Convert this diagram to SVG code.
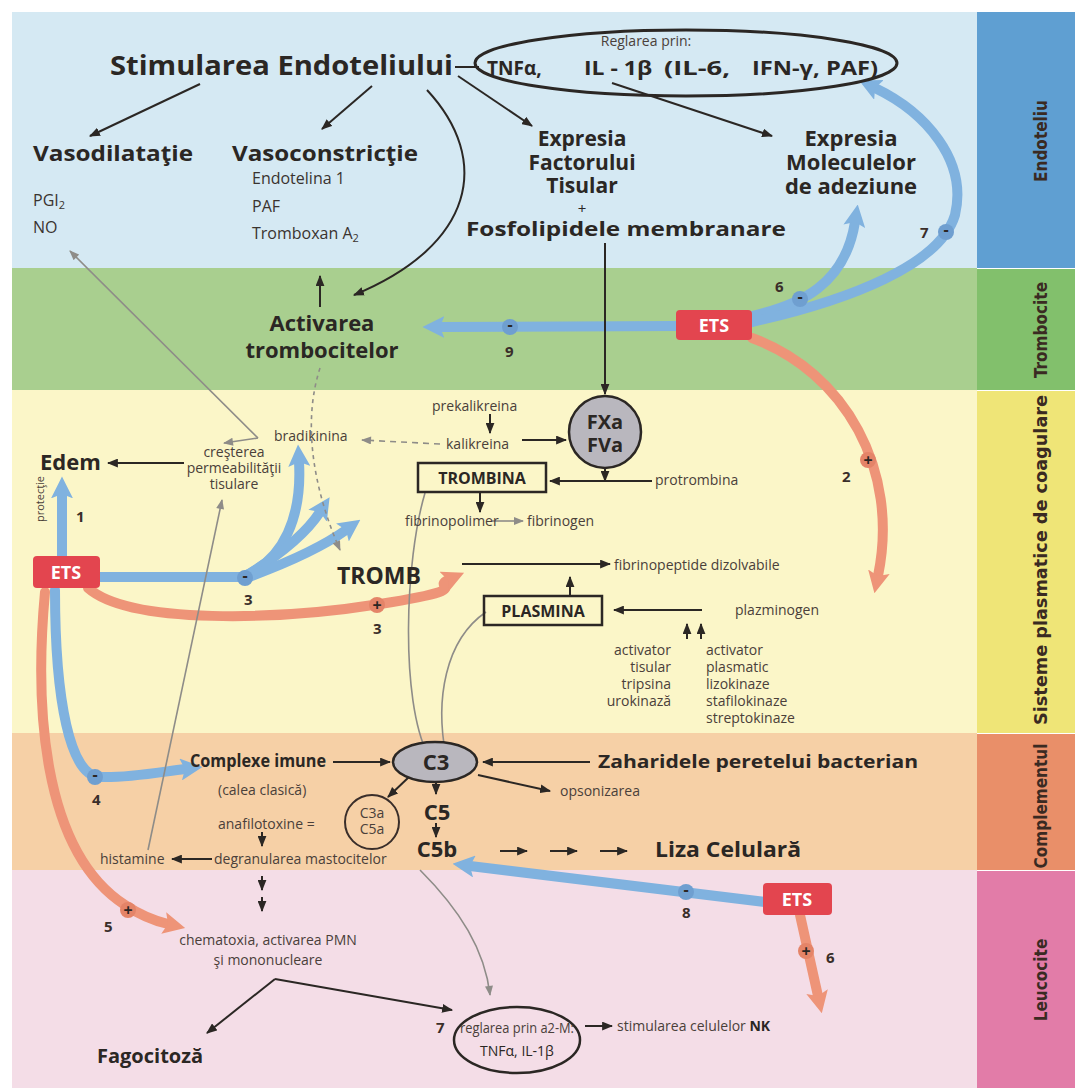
<svg xmlns="http://www.w3.org/2000/svg" width="1075" height="1088" viewBox="0 0 1075 1088">
<style>
text{font-family:"Open Sans","Liberation Sans",sans-serif;fill:#2b2724}
.b{font-weight:bold}
.s{font-size:14px;fill:#4a403a}
.m{font-size:16px;fill:#3a332f}
.side{font-family:"DejaVu Sans Condensed","Liberation Sans",sans-serif;font-weight:bold;font-size:17px;fill:#3a2a22}
.num{font-weight:bold;font-size:15px;fill:#3a2e2a}
.k{fill:none;stroke:#2b2724;stroke-width:2}
.g{fill:none;stroke:#8e8c88;stroke-width:1.6}
.bl{fill:none;stroke:#80b2df;stroke-width:10;stroke-linecap:round}
.rd{fill:none;stroke:#ee9478;stroke-width:10;stroke-linecap:round}
.ets rect{fill:#e3454f}
.ets text{fill:#fff;font-weight:bold;font-size:18px;text-anchor:middle}
.mc{fill:#6f9fd0}
.pc{fill:#e48468}
.sg{font-size:16px;font-weight:bold;text-anchor:middle;fill:#2b2724}
.c{text-anchor:middle}
</style>
<defs>
<marker id="ak" viewBox="0 0 10 8" refX="9" refY="4" markerWidth="11" markerHeight="9" markerUnits="userSpaceOnUse" orient="auto"><path d="M0,0L10,4L0,8z" fill="#2b2724"/></marker>
<marker id="ag" viewBox="0 0 10 8" refX="9" refY="4" markerWidth="11" markerHeight="8" markerUnits="userSpaceOnUse" orient="auto"><path d="M0,0L10,4L0,8z" fill="#8e8c88"/></marker>
<marker id="ab" viewBox="0 0 20 20" refX="4" refY="10" markerWidth="22" markerHeight="22" markerUnits="userSpaceOnUse" orient="auto"><path d="M0,0L20,10L0,20L4,10z" fill="#80b2df"/></marker>
<marker id="ar" viewBox="0 0 20 20" refX="4" refY="10" markerWidth="22" markerHeight="22" markerUnits="userSpaceOnUse" orient="auto"><path d="M0,0L20,10L0,20L4,10z" fill="#ee9478"/></marker>
</defs>
<rect width="1075" height="1088" fill="#ffffff"/>
<g id="bands">
<rect x="12" y="12" width="965" height="256" fill="#d5e9f3"/>
<rect x="12" y="268" width="965" height="122" fill="#a9cf8f"/>
<rect x="12" y="390" width="965" height="343" fill="#fbf6c8"/>
<rect x="12" y="733" width="965" height="137" fill="#f6d0a6"/>
<rect x="12" y="870" width="965" height="218" fill="#f4dde7"/>
<rect x="977" y="12" width="98" height="256" fill="#5f9fd2"/>
<rect x="977" y="269" width="98" height="121" fill="#82c06c"/>
<rect x="977" y="391" width="98" height="342" fill="#efe577"/>
<rect x="977" y="734" width="98" height="136" fill="#e98f69"/>
<rect x="977" y="871" width="98" height="217" fill="#e27ca8"/>
<text class="side" transform="translate(1047,141) rotate(-90)" text-anchor="middle">Endoteliu</text>
<text class="side" transform="translate(1047,330) rotate(-90)" text-anchor="middle">Trombocite</text>
<text class="side" transform="translate(1047,560) rotate(-90)" text-anchor="middle" textLength="330" lengthAdjust="spacingAndGlyphs">Sisteme plasmatice de coagulare</text>
<text class="side" transform="translate(1047,806) rotate(-90)" text-anchor="middle">Complementul</text>
<text class="side" transform="translate(1047,980) rotate(-90)" text-anchor="middle">Leucocite</text>
</g>
<g id="connectors">
<path class="bl" d="M676,326 L440,327" marker-end="url(#ab)"/>
<path class="bl" d="M752,316 C800,305 845,285 855,222" marker-end="url(#ab)"/>
<path class="bl" d="M752,322 C850,300 940,265 955,215 C968,160 925,112 875,88" marker-end="url(#ab)"/>
<path class="rd" d="M752,338 C845,372 900,470 878,576" marker-end="url(#ar)"/>
<path class="bl" d="M62,556 L62,494" marker-end="url(#ab)"/>
<path class="bl" d="M100,577 L242,577"/>
<path class="bl" d="M242,577 C285,560 302,515 299,462" marker-end="url(#ab)" stroke-width="9"/>
<path class="bl" d="M244,577 C280,555 305,535 320,512" marker-end="url(#ab)" stroke-width="8"/>
<path class="bl" d="M246,578 C290,562 325,545 346,530" marker-end="url(#ab)" stroke-width="8"/>
<path class="rd" d="M88,588 C130,625 280,620 380,604 S430,588 448,580" marker-end="url(#ar)"/>
<path class="bl" d="M55,590 C55,700 70,777 100,777 C130,778 160,772 185,769" marker-end="url(#ab)"/>
<path class="rd" d="M45,592 C35,700 40,850 125,905 C140,915 155,921 168,924" marker-end="url(#ar)"/>
<path class="bl" d="M765,902 L470,866" marker-end="url(#ab)"/>
<path class="rd" d="M800,915 L818,996" marker-end="url(#ar)" stroke-width="8"/>
<path class="k" d="M455,67 L479,67"/>
<path class="k" d="M200,84 L90,136" marker-end="url(#ak)"/>
<path class="k" d="M372,86 L322,129" marker-end="url(#ak)"/>
<path class="k" d="M458,76 L532,126" marker-end="url(#ak)"/>
<path class="k" d="M612,83 L772,136" marker-end="url(#ak)"/>
<path class="k" d="M427,90 C492,160 475,245 354,295" marker-end="url(#ak)"/>
<path class="k" d="M320,307 L320,276" marker-end="url(#ak)" stroke-width="2.5"/>
<path class="k" d="M605,243 L605,394" marker-end="url(#ak)"/>
<path class="k" d="M490,414 L490,433" marker-end="url(#ak)" stroke-width="1.6"/>
<path class="k" d="M522,440 L566,440" marker-end="url(#ak)" stroke-width="3.5"/>
<path class="k" d="M605,469 L605,481" marker-end="url(#ak)" stroke-width="1.2"/>
<path class="k" d="M652,481 L550,481" marker-end="url(#ak)" stroke-width="2.5"/>
<path class="k" d="M480,493 L480,512" marker-end="url(#ak)" stroke-width="2.5"/>
<path class="k" d="M462,564 L610,564" marker-end="url(#ak)"/>
<path class="k" d="M570,596 L570,577" marker-end="url(#ak)" stroke-width="1.8"/>
<path class="k" d="M702,610 L614,610" marker-end="url(#ak)" stroke-width="3"/>
<path class="k" d="M687,639 L687,624" marker-end="url(#ak)" stroke-width="1.4"/>
<path class="k" d="M701,639 L701,624" marker-end="url(#ak)" stroke-width="1.4"/>
<path class="k" d="M184,463 L108,463" marker-end="url(#ak)" stroke-width="3"/>
<path class="k" d="M333,762 L390,762" marker-end="url(#ak)"/>
<path class="k" d="M590,762 L483,762" marker-end="url(#ak)" stroke-width="2.5"/>
<path class="k" d="M478,775 L550,791" marker-end="url(#ak)"/>
<path class="k" d="M410,776 L388,797" marker-end="url(#ak)"/>
<path class="k" d="M436,781 L436,794" marker-end="url(#ak)" stroke-width="1.4"/>
<path class="k" d="M436,823 L436,837" marker-end="url(#ak)" stroke-width="1.4"/>
<path class="k" d="M262,832 L262,846" marker-end="url(#ak)" stroke-width="1.4"/>
<path class="k" d="M212,859 L172,859" marker-end="url(#ak)" stroke-width="1.6"/>
<path class="k" d="M500,851 L527,851" marker-end="url(#ak)" stroke-width="1.6"/>
<path class="k" d="M550,851 L577,851" marker-end="url(#ak)" stroke-width="1.6"/>
<path class="k" d="M600,851 L627,851" marker-end="url(#ak)" stroke-width="1.6"/>
<path class="k" d="M262,876 L262,890" marker-end="url(#ak)" stroke-width="1.4"/>
<path class="k" d="M262,897 L262,911" marker-end="url(#ak)" stroke-width="1.4"/>
<path class="k" d="M275,979 L207,1033" marker-end="url(#ak)"/>
<path class="k" d="M275,979 L452,1010" marker-end="url(#ak)"/>
<path class="k" d="M585,1026 L612,1026" marker-end="url(#ak)" stroke-width="1.6"/>
<path class="g" d="M258,438 L70,251" marker-end="url(#ag)"/>
<path class="g" d="M258,438 L224,443" marker-end="url(#ag)"/>
<path class="g" d="M440,444 L362,440" marker-end="url(#ag)" stroke-dasharray="6 5"/>
<path class="g" d="M320,368 C300,430 318,500 340,550" marker-end="url(#ag)" stroke-dasharray="4 4"/>
<path class="g" d="M148,850 L222,500" marker-end="url(#ag)"/>
<path class="g" d="M425,493 C405,560 400,700 428,755" marker-end="url(#ag)"/>
<path class="g" d="M486,612 C445,640 435,700 446,756" marker-end="url(#ag)"/>
<path class="g" d="M420,870 C460,910 485,950 490,995" marker-end="url(#ag)"/>
<path class="g" d="M492,521 L523,521" marker-end="url(#ag)"/>
<circle class="mc" cx="510" cy="327" r="8"/><text class="sg" x="510" y="330">-</text>
<circle class="mc" cx="800" cy="299" r="8"/><text class="sg" x="800" y="302">-</text>
<circle class="mc" cx="946" cy="232" r="8"/><text class="sg" x="946" y="235">-</text>
<circle class="mc" cx="245" cy="578" r="8"/><text class="sg" x="245" y="581">-</text>
<circle class="mc" cx="95" cy="777" r="8"/><text class="sg" x="95" y="780">-</text>
<circle class="mc" cx="686" cy="892" r="8"/><text class="sg" x="686" y="895">-</text>
<circle class="pc" cx="868" cy="460" r="8"/><text class="sg" x="868" y="466">+</text>
<circle class="pc" cx="377" cy="605" r="8"/><text class="sg" x="377" y="611">+</text>
<circle class="pc" cx="128" cy="910" r="8"/><text class="sg" x="128" y="916">+</text>
<circle class="pc" cx="806" cy="951" r="8"/><text class="sg" x="806" y="957">+</text>
<text class="num" x="505" y="357">9</text>
<text class="num" x="775" y="292">6</text>
<text class="num" x="920" y="238">7</text>
<text class="num" x="842" y="482">2</text>
<text class="num" x="76" y="522">1</text>
<text class="num" x="244" y="605">3</text>
<text class="num" x="373" y="634">3</text>
<text class="num" x="92" y="805">4</text>
<text class="num" x="104" y="932">5</text>
<text class="num" x="682" y="918">8</text>
<text class="num" x="826" y="963">6</text>
<text class="s" transform="translate(44,499) rotate(-90)" text-anchor="middle" style="font-size:11px">protecţie</text>
</g>
<g id="n-stim"><text class="b" x="110" y="75" font-size="26" textLength="343" lengthAdjust="spacingAndGlyphs">Stimularea Endoteliului</text></g>
<g id="n-reg"><ellipse cx="686" cy="63" rx="211" ry="33" fill="none" stroke="#2b2724" stroke-width="3"/>
<text class="s c" x="646" y="46" font-size="13">Reglarea prin:</text>
<text class="b" x="487" y="75" font-size="19">TNFα,</text>
<text class="b" x="584" y="75" font-size="19" textLength="68" lengthAdjust="spacingAndGlyphs">IL - 1β</text>
<text class="b" x="664" y="75" font-size="19" textLength="66" lengthAdjust="spacingAndGlyphs">(IL-6,</text>
<text class="b" x="752" y="75" font-size="19" textLength="126" lengthAdjust="spacingAndGlyphs">IFN-γ, PAF)</text></g>
<g id="n-vasod"><text class="b" x="33" y="161" font-size="22" textLength="160" lengthAdjust="spacingAndGlyphs">Vasodilataţie</text>
<text class="m" x="33" y="206">PGI<tspan font-size="11" dy="3">2</tspan></text>
<text class="m" x="33" y="233">NO</text></g>
<g id="n-vasoc"><text class="b" x="232" y="161" font-size="22" textLength="186" lengthAdjust="spacingAndGlyphs">Vasoconstricţie</text>
<text class="m" x="252" y="184">Endotelina 1</text>
<text class="m" x="252" y="212">PAF</text>
<text class="m" x="252" y="239">Tromboxan A<tspan font-size="11" dy="3">2</tspan></text></g>
<g id="n-expf"><text class="b c" x="582" y="146" font-size="21">Expresia</text>
<text class="b c" x="582" y="170" font-size="21">Factorului</text>
<text class="b c" x="582" y="193" font-size="21">Tisular</text>
<text class="c" x="582" y="214" font-size="15">+</text>
<text class="b" x="466" y="236" font-size="20" textLength="320" lengthAdjust="spacingAndGlyphs">Fosfolipidele membranare</text></g>
<g id="n-expm"><text class="b c" x="851" y="146" font-size="22">Expresia</text>
<text class="b c" x="851" y="170" font-size="22">Moleculelor</text>
<text class="b c" x="851" y="194" font-size="22">de adeziune</text></g>
<g id="n-activ"><text class="b c" x="322" y="331" font-size="22">Activarea</text>
<text class="b c" x="322" y="358" font-size="22">trombocitelor</text></g>
<g id="n-ets1" class="ets"><rect x="676" y="310" width="76" height="30" rx="4"/><text x="714" y="332">ETS</text></g>
<g id="n-ets2" class="ets"><rect x="33" y="556" width="67" height="32" rx="4"/><text x="66" y="579">ETS</text></g>
<g id="n-ets3" class="ets"><rect x="763" y="883" width="69" height="32" rx="4"/><text x="797" y="906">ETS</text></g>
<g id="n-kal"><text class="s" x="432" y="411">prekalikreina</text>
<text class="s" x="446" y="449">kalikreina</text>
<text class="s" x="274" y="441">bradikinina</text></g>
<g id="n-fxa"><circle cx="605" cy="432" r="36" fill="#b9b7be" stroke="#2b2724" stroke-width="2.5"/>
<text class="b c" x="605" y="429" font-size="20">FXa</text>
<text class="b c" x="605" y="452" font-size="20">FVa</text></g>
<g id="n-trombina"><rect x="418" y="463" width="128" height="29" fill="none" stroke="#2b2724" stroke-width="2.5"/>
<text class="b c" x="482" y="484" font-size="16">TROMBINA</text>
<text class="s" x="655" y="485" font-size="15">protrombina</text></g>
<g id="n-fibrin"><text class="s" x="405" y="526" font-size="13">fibrinopolimer</text>
<text class="s" x="527" y="526">fibrinogen</text></g>
<g id="n-tromb"><text class="b" x="337" y="584" font-size="23">TROMB</text>
<text class="s" x="614" y="570" font-size="15">fibrinopeptide dizolvabile</text></g>
<g id="n-plasmina"><rect x="484" y="596" width="118" height="29" fill="none" stroke="#2b2724" stroke-width="2.5"/>
<text class="b c" x="543" y="617" font-size="16">PLASMINA</text>
<text class="s" x="735" y="615" font-size="15">plazminogen</text></g>
<g id="n-activ-t"><text class="s" x="671" y="655" text-anchor="end">activator</text>
<text class="s" x="671" y="672" text-anchor="end">tisular</text>
<text class="s" x="671" y="689" text-anchor="end">tripsina</text>
<text class="s" x="671" y="706" text-anchor="end">urokinază</text></g>
<g id="n-activ-p"><text class="s" x="706" y="655">activator</text>
<text class="s" x="706" y="672">plasmatic</text>
<text class="s" x="706" y="689">lizokinaze</text>
<text class="s" x="706" y="706">stafilokinaze</text>
<text class="s" x="706" y="723">streptokinaze</text></g>
<g id="n-edem"><text class="b" x="40" y="470" font-size="22">Edem</text></g>
<g id="n-cresterea"><text class="s c" x="234" y="457">creşterea</text>
<text class="s c" x="234" y="473">permeabilităţii</text>
<text class="s c" x="234" y="489">tisulare</text></g>
<g id="n-complexe"><text class="b" x="190" y="767" font-size="17" textLength="136" lengthAdjust="spacingAndGlyphs">Complexe imune</text>
<text class="s" x="218" y="795">(calea clasică)</text></g>
<g id="n-c3"><ellipse cx="435" cy="762" rx="42" ry="20" fill="#b9b7be" stroke="#2b2724" stroke-width="2.5"/>
<text class="b c" x="436" y="770" font-size="22">C3</text></g>
<g id="n-zahar"><text class="b" x="598" y="768" font-size="18" textLength="320" lengthAdjust="spacingAndGlyphs">Zaharidele peretelui bacterian</text>
<text class="s" x="560" y="796">opsonizarea</text></g>
<g id="n-anafil"><text class="s" x="218" y="829">anafilotoxine =</text>
<circle cx="372" cy="822" r="27" fill="none" stroke="#3a2e2a" stroke-width="2"/>
<text class="s c" x="372" y="818" font-size="11">C3a</text>
<text class="s c" x="372" y="834" font-size="11">C5a</text></g>
<g id="n-c5"><text class="b c" x="437" y="820" font-size="22">C5</text>
<text class="b c" x="437" y="857" font-size="22">C5b</text></g>
<g id="n-liza"><text class="b" x="655" y="857" font-size="21" textLength="146" lengthAdjust="spacingAndGlyphs">Liza Celulară</text></g>
<g id="n-histamine"><text class="s" x="100" y="864">histamine</text>
<text class="s" x="214" y="864">degranularea mastocitelor</text></g>
<g id="n-chem"><text class="s c" x="268" y="945">chematoxia, activarea PMN</text>
<text class="s c" x="268" y="965">şi mononucleare</text></g>
<g id="n-fago"><text class="b" x="97" y="1063" font-size="20">Fagocitoză</text></g>
<g id="n-reg2"><text class="num" x="436" y="1033">7</text>
<ellipse cx="517" cy="1040" rx="63" ry="33" fill="none" stroke="#2b2724" stroke-width="2.5"/>
<text class="s c" x="517" y="1033" font-size="12" textLength="114" lengthAdjust="spacingAndGlyphs">reglarea prin a2-M:</text>
<text class="c" x="517" y="1056" font-size="14">TNFα, IL-1β</text></g>
<g id="n-nk"><text class="s" x="617" y="1031">stimularea celulelor <tspan font-weight="bold" fill="#2b2724">NK</tspan></text></g>
</svg>
